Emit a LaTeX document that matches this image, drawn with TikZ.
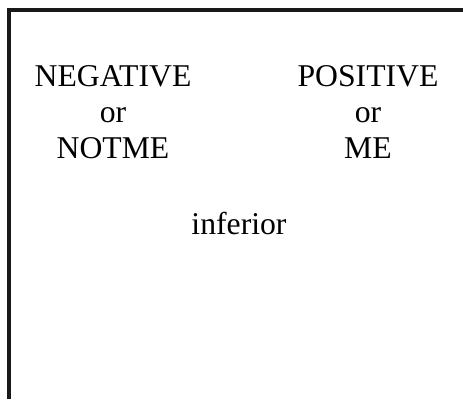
\documentclass[tikz,border=0pt]{standalone}
\usepackage{fontspec}
\setmainfont{Liberation Serif}
\begin{document}
\begin{tikzpicture}[x=1pt,y=1pt,
  label text/.style={inner sep=0pt, align=center, anchor=base,
    font=\fontsize{31.7}{36}\selectfont},
  frame line/.style={line width=3.5pt, black!90}]
\useasboundingbox (0,0) rectangle (463,399);
% open frame: left and top edges only
\coordinate (fb) at (9,0);
\coordinate (fc) at (9,389);
\coordinate (fr) at (463,389);
\draw[frame line] (fb) -- (fc) -- (fr);
% labels (base anchor sits on the last line)
\node[label text] (neg) at (113,240) {NEGATIVE\\or\\NOTME};
\node[label text] (pos) at (368,240) {POSITIVE\\or\\ME};
\node[label text] (inf) at (239,164) {inferior};
\end{tikzpicture}
\end{document}
